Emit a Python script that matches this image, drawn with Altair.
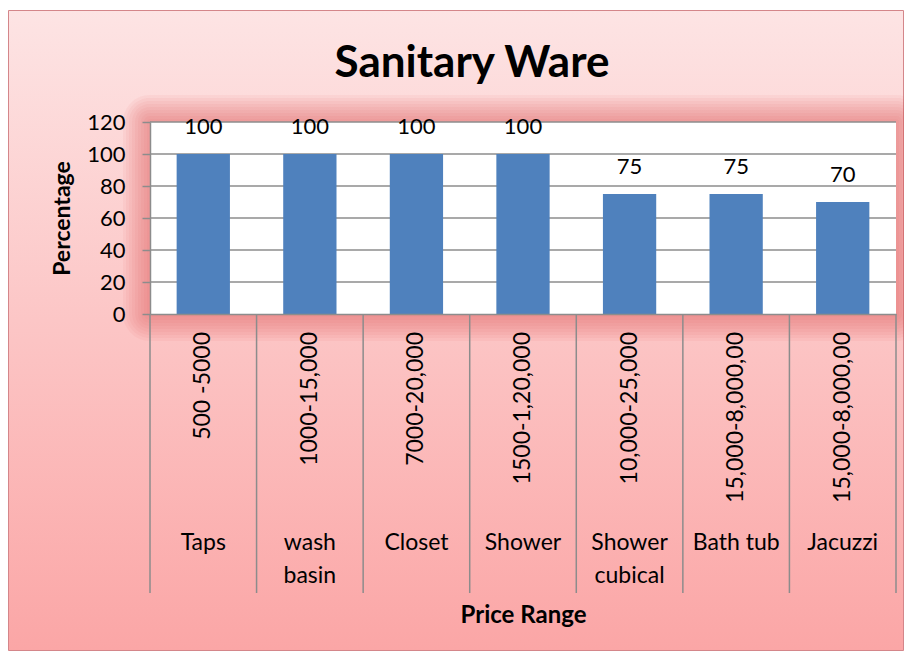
import altair as alt
import pandas as pd

# ---- data ----
chart_title = "Sanitary Ware"
products = ["Taps", "wash basin", "Closet", "Shower", "Shower cubical", "Bath tub", "Jacuzzi"]
name_lines = ["Taps", "wash\nbasin", "Closet", "Shower", "Shower\ncubical", "Bath tub", "Jacuzzi"]
price_ranges = ["500 -5000", "1000-15,000", "7000-20,000", "1500-1,20,000",
                "10,000-25,000", "15,000-8,000,00", "15,000-8,000,00"]
percentages = [100, 100, 100, 100, 75, 75, 70]
y_ticks = [0, 20, 40, 60, 80, 100, 120]

# ---- layout ----
W, H = 746, 192
PAD_L, PAD_T, PAD_R, PAD_B = 142, 114, 8, 337
FONT = "Lato"
GRID = "#8c8c8c"

df = pd.DataFrame({"product": products, "name": name_lines,
                   "price": price_ranges, "pct": percentages})
grid_df = pd.DataFrame({"g": y_ticks[1:]})
one = pd.DataFrame({"a": [0]})
title_df = pd.DataFrame({"t": [chart_title]})

x_axis = alt.Axis(labels=False, ticks=False, grid=False, domainColor=GRID, domainWidth=1.5,
                  title="Price Range", titleFont=FONT, titleFontSize=24, titleFontWeight="bold",
                  titleColor="black", titleY=308, titleBaseline="alphabetic", zindex=1)
x_scale = alt.Scale(paddingInner=0, paddingOuter=0)
y_axis = alt.Axis(values=y_ticks, grid=False, domainColor=GRID, domainWidth=1.5,
                  tickColor=GRID, tickWidth=1.5, tickSize=8,
                  labelFont=FONT, labelFontSize=22, labelColor="black", labelPadding=17,
                  title="Percentage", titleFont=FONT, titleFontSize=23, titleFontWeight="bold",
                  titleColor="black", titlePadding=12, zindex=1)
y_scale = alt.Scale(domain=[0, 120], nice=False)


def xenc(band=None):
    if band is None:
        return alt.X("product:N", sort=products, scale=x_scale, axis=x_axis)
    return alt.X("product:N", sort=products, scale=x_scale, axis=x_axis, bandPosition=band)


def yenc(field):
    return alt.Y(f"{field}:Q", scale=y_scale, axis=y_axis)


# background panel with vertical gradient
bg = alt.Chart(one).mark_rect(
    fill=alt.Gradient(gradient="linear", x1=0, x2=0, y1=0, y2=1,
                      stops=[alt.GradientStop(color="#FDE4E4", offset=0),
                             alt.GradientStop(color="#FBA6A6", offset=1)]),
    stroke="#D4868A", strokeWidth=1,
).encode(x=alt.value(-PAD_L + 0.5), x2=alt.value(W + PAD_R - 0.5),
         y=alt.value(-PAD_T + 2.5), y2=alt.value(H + PAD_B - 0.5))

# soft red glow around plot area
glows = []
for k in range(9):
    d = 3 * (k + 1)
    glows.append(alt.Chart(one).mark_rect(fill="#E85A5A", opacity=0.065, cornerRadius=d).encode(
        x=alt.value(-d), x2=alt.value(W + d), y=alt.value(-d), y2=alt.value(H + d)))

plot_bg = alt.Chart(one).mark_rect(fill="white").encode(
    x=alt.value(0), x2=alt.value(W), y=alt.value(0), y2=alt.value(H))

grid = alt.Chart(grid_df).mark_rule(color=GRID, strokeWidth=1.5).encode(
    y=yenc("g"), x=alt.value(0), x2=alt.value(W))

base = alt.Chart(df)
bars = base.mark_bar(color="#4F81BD", width=alt.RelativeBandSize(0.5)).encode(
    x=xenc(), y=yenc("pct"))
bar_labels = base.mark_text(font=FONT, fontSize=22, dy=-20, baseline="alphabetic",
                            color="black").encode(x=xenc(), y=yenc("pct"), text="pct:Q")

seps = base.mark_rule(color=GRID, strokeWidth=1.5).encode(
    x=xenc(0), y=alt.value(H), y2=alt.value(471))
seps_end = base.transform_filter(alt.datum.product == products[-1]).mark_rule(
    color=GRID, strokeWidth=1.5).encode(x=xenc(1), y=alt.value(H), y2=alt.value(471))

price_text = base.mark_text(font=FONT, fontSize=23, angle=270, align="right",
                            baseline="middle", color="black").encode(
    x=xenc(), y=alt.value(H + 18), text="price:N")
name_text = base.mark_text(font=FONT, fontSize=23, baseline="top", lineBreak="\n",
                           lineHeight=33, color="black").encode(
    x=xenc(), y=alt.value(410), text="name:N")

title_text = alt.Chart(title_df).mark_text(
    font=FONT, fontSize=44, fontWeight="bold", color="black",
    align="center", baseline="alphabetic").encode(
    x=alt.value(W / 2 - 51), y=alt.value(-45), text="t:N")

chart = alt.layer(bg, *glows, plot_bg, grid, bars, bar_labels, seps, seps_end,
                  price_text, name_text, title_text).properties(
    width=W, height=H,
    padding={"left": PAD_L, "top": PAD_T, "right": PAD_R, "bottom": PAD_B},
    autosize=alt.AutoSizeParams(type="none"),
).configure_view(stroke=None).configure(background="white")

chart.save("out.html", embed_options={"renderer": "svg", "actions": False})
